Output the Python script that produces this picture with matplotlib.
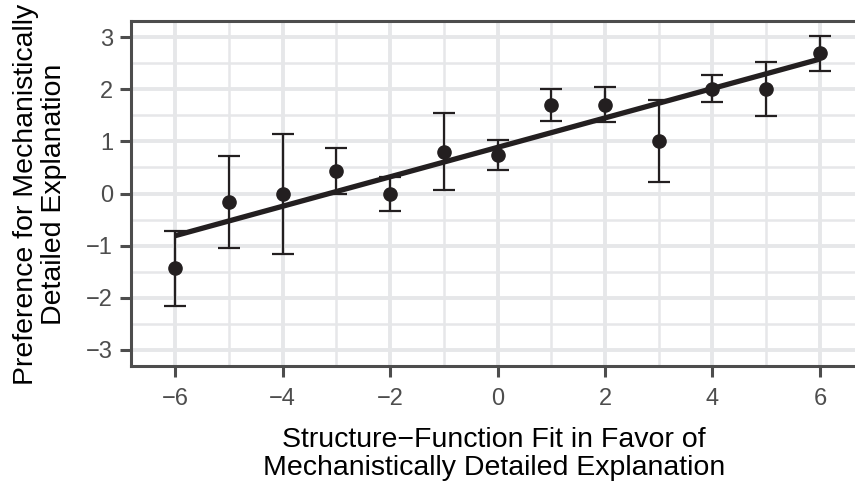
import matplotlib
matplotlib.use("Agg")
import matplotlib.pyplot as plt
from matplotlib.ticker import MultipleLocator

plt.rcParams['font.family'] = ['Liberation Sans', 'DejaVu Sans']

x_vals = [-6, -5, -4, -3, -2, -1, 0, 1, 2, 3, 4, 5, 6]
means = [-1.43, -0.17, 0.00, 0.43, 0.00, 0.80, 0.74, 1.70, 1.70, 1.00, 2.01, 2.01, 2.69]
upper = [-0.72, 0.71, 1.15, 0.87, 0.32, 1.54, 1.03, 2.01, 2.04, 1.79, 2.27, 2.53, 3.02]
lower = [-2.15, -1.05, -1.16, 0.00, -0.33, 0.06, 0.45, 1.39, 1.37, 0.22, 1.75, 1.49, 2.35]
fit_intercept = 0.885
fit_slope = 0.2825
x_ticks = [-6, -4, -2, 0, 2, 4, 6]
y_ticks = [-3, -2, -1, 0, 1, 2, 3]
x_title = "Structure\u2212Function Fit in Favor of\nMechanistically Detailed Explanation"
y_title = "Preference for Mechanistically\nDetailed Explanation"

W, H = 855, 484
fig = plt.figure(figsize=(W / 100, H / 100), dpi=100)
left, right, top, bottom = 131, 864, 21, 366
ax = fig.add_axes([left / W, 1 - bottom / H, (right - left) / W, (bottom - top) / H])

ink = '#231F20'
grid_c = '#E6E7E9'
spine_c = '#4D4D4D'

ax.set_xlim(-6.82, 6.82)
ax.set_ylim(-3.31, 3.31)
ax.xaxis.set_minor_locator(MultipleLocator(1))
ax.yaxis.set_minor_locator(MultipleLocator(0.5))
ax.set_xticks(x_ticks)
ax.set_yticks(y_ticks)
ax.grid(which='major', color=grid_c, linewidth=2.8, zorder=0)
ax.grid(which='minor', color=grid_c, linewidth=1.8, zorder=0)
ax.set_axisbelow(True)

yerr_low = [m - l for m, l in zip(means, lower)]
yerr_up = [u - m for m, u in zip(means, upper)]
ax.errorbar(x_vals, means, yerr=[yerr_low, yerr_up], fmt='none', ecolor=ink,
            elinewidth=1.6, capsize=8, capthick=1.6, zorder=3)
ax.plot(x_vals, means, 'o', color=ink, markersize=9.5, zorder=4)

x0, x1 = min(x_vals), max(x_vals)
ax.plot([x0, x1], [fit_intercept + fit_slope * x0, fit_intercept + fit_slope * x1],
        color=ink, linewidth=3.8, solid_capstyle='butt', zorder=5)

for s in ax.spines.values():
    s.set_color(spine_c)
    s.set_linewidth(2.2)

ax.tick_params(which='major', length=8, width=2.2, color=spine_c,
               labelsize=17, labelcolor='#4D4D4D', pad=5)
ax.tick_params(axis='x', which='major', pad=8)
ax.tick_params(which='minor', length=0)
ax.set_xticklabels([str(t).replace('-', '\u2212') for t in x_ticks])
ax.set_yticklabels([str(t).replace('-', '\u2212') for t in y_ticks])

fig.text(494 / W, 1 - 427 / H, x_title, fontsize=20.5, color='black',
         ha='center', va='top', linespacing=1.1, multialignment='center')
fig.text(40 / W, 1 - 194 / H, y_title, fontsize=20.5, color='black',
         ha='center', va='center', rotation=90, linespacing=1.1, multialignment='center')

fig.savefig('out.png', dpi=100)
